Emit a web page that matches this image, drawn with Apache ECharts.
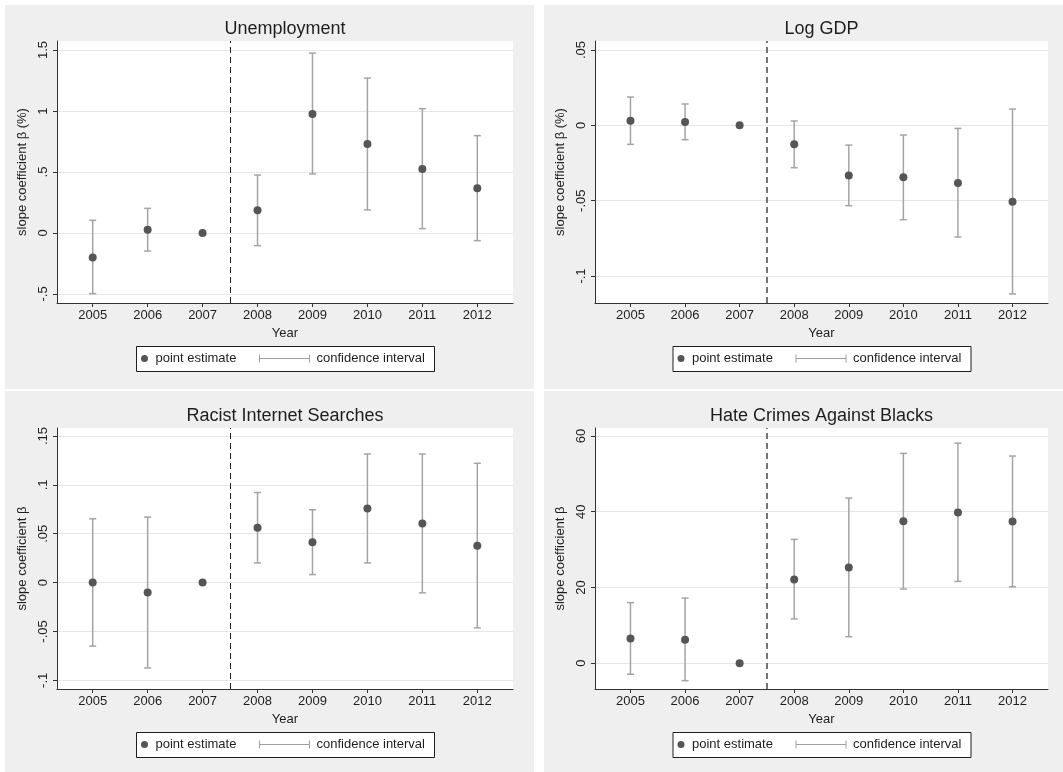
<!DOCTYPE html>
<html>
<head>
<meta charset="utf-8">
<title>event study</title>
<script src="https://cdn.jsdelivr.net/npm/echarts@6.0.0/dist/echarts.min.js"></script>
<style>
  html, body { margin: 0; padding: 0; background: #fff; }
  body { width: 1063px; height: 772px; position: relative; overflow: hidden; }
  .panel { position: absolute; background: #efefef; }
</style>
</head>
<body>
<div id="p1" class="panel" style="left:5px; top:5px; width:529px; height:384px;"></div>
<div id="p2" class="panel" style="left:544px; top:5px; width:519px; height:384px;"></div>
<div id="p3" class="panel" style="left:5px; top:391px; width:529px; height:381px;"></div>
<div id="p4" class="panel" style="left:544px; top:391px; width:519px; height:381px;"></div>
<script>
// years on the x axis
var years = [2005, 2006, 2007, 2008, 2009, 2010, 2011, 2012];

// unemployment
var unempEst = [-0.200, 0.027, 0, 0.186, 0.975, 0.730, 0.525, 0.366];
var unempLo  = [-0.497, -0.148, null, -0.104, 0.484, 0.189, 0.036, -0.063];
var unempHi  = [0.104, 0.202, null, 0.475, 1.475, 1.270, 1.019, 0.798];
var unempTicks = [-0.5, 0, 0.5, 1, 1.5];

// log gdp
var gdpEst = [0.0031, 0.0022, 0, -0.0126, -0.0332, -0.0345, -0.0383, -0.0507];
var gdpLo  = [-0.0126, -0.0095, null, -0.0281, -0.0533, -0.0626, -0.0741, -0.1119];
var gdpHi  = [0.0188, 0.0142, null, 0.0029, -0.0131, -0.0064, -0.0020, 0.0108];
var gdpTicks = [-0.1, -0.05, 0, 0.05];

// racist internet searches
var racistEst = [0, -0.0102, 0, 0.0561, 0.0412, 0.0759, 0.0605, 0.0378];
var racistLo  = [-0.0650, -0.0874, null, 0.0201, 0.0082, 0.0201, -0.0105, -0.0463];
var racistHi  = [0.0653, 0.0670, null, 0.0922, 0.0745, 0.1316, 0.1316, 0.1221];
var racistTicks = [-0.1, -0.05, 0, 0.05, 0.1, 0.15];

// hate crimes against blacks
var hateEst = [6.55, 6.2, 0, 22.1, 25.3, 37.5, 39.8, 37.4];
var hateLo  = [-2.9, -4.6, null, 11.7, 7.0, 19.6, 21.6, 20.2];
var hateHi  = [16.0, 17.2, null, 32.7, 43.6, 55.4, 58.1, 54.7];
var hateTicks = [0, 20, 40, 60];

var FONT = "'Liberation Sans', Arial, sans-serif";

// stata style number: .5 instead of 0.5
function stataNum(v) {
	return String(v).replace(/^(-?)0\./, '$1.');
}

function makePanel(id, conf) {
	var chart = echarts.init(document.getElementById(id), null, {renderer : 'canvas'});
	var g = conf.grid;
	var cx = g.left + g.width / 2;
	var boxW = 298, boxH = 25;
	var boxL = cx - boxW / 2;
	var boxT = g.top + g.height + 43;

	var points = [], bars = [];
	for(var i = 0; i < years.length; i++) {
		points.push([years[i], conf.est[i]]);
		if(conf.lo[i] != null){
			bars.push([years[i], conf.lo[i], conf.hi[i]]);
		}
	}

	var option = {
		backgroundColor : 'transparent',
		animation : false,
		textStyle : {fontFamily : FONT},
		title : {
			text : conf.title,
			left : cx,
			top : g.top - 21,
			textAlign : 'center',
			padding : 0,
			textStyle : {fontFamily : FONT, fontSize : 18, fontWeight : 'normal', color : '#1e1e1e'}
		},
		grid : {
			left : g.left, top : g.top, width : g.width, height : g.height,
			show : true, backgroundColor : '#ffffff', borderWidth : 0
		},
		graphic : [{
			type : 'rect', left : boxL, top : boxT, z : 0,
			shape : {width : boxW, height : boxH},
			style : {fill : '#ffffff', stroke : '#1e1e1e', lineWidth : 1}
		}],
		legend : [{
			left : boxL + 5, top : boxT + 6, padding : 0,
			itemWidth : 8, itemHeight : 7, selectedMode : false,
			textStyle : {fontFamily : FONT, fontSize : 13, color : '#1e1e1e', padding : [0, 0, 0, 2]},
			data : [{name : 'point estimate', icon : 'circle'}]
		}, {
			left : boxL + 123, top : boxT + 6, padding : 0,
			itemWidth : 50, itemHeight : 8, selectedMode : false,
			textStyle : {fontFamily : FONT, fontSize : 13, color : '#1e1e1e', padding : [0, 0, 0, 2]},
			data : [{
				name : 'confidence interval',
				icon : 'path://M0,0L0,8M0,4L50,4M50,0L50,8',
				itemStyle : {color : 'transparent', borderColor : '#a0a0a0', borderWidth : 1}
			}]
		}],
		xAxis : {
			type : 'value', min : 2004.35, max : 2012.65,
			name : 'Year', nameLocation : 'middle', nameGap : 21,
			nameTextStyle : {fontFamily : FONT, fontSize : 13, color : '#1e1e1e'},
			axisLine : {onZero : false, lineStyle : {color : '#333', width : 1}},
			axisTick : {show : true, length : 4, customValues : years, lineStyle : {color : '#333'}},
			axisLabel : {customValues : years, margin : 6, fontSize : 13, color : '#1e1e1e', fontFamily : FONT,
				formatter : function(v) { return String(v); }},
			splitLine : {show : false}
		},
		yAxis : {
			type : 'value', min : conf.yMin, max : conf.yMax,
			name : conf.yName, nameLocation : 'middle', nameGap : 21, nameRotate : 90,
			nameTextStyle : {fontFamily : FONT, fontSize : 13, color : '#1e1e1e'},
			axisLine : {show : true, onZero : false, lineStyle : {color : '#333', width : 1}},
			axisTick : {show : true, length : 4, customValues : conf.ticks, lineStyle : {color : '#333'}},
			axisLabel : {customValues : conf.ticks, rotate : 90, margin : 7, fontSize : 13, color : '#1e1e1e', fontFamily : FONT,
				formatter : stataNum},
			splitLine : {show : true, lineStyle : {color : '#e6e6e6', width : 1}}
		},
		series : [{
			name : 'confidence interval',
			type : 'custom',
			z : 2,
			data : bars,
			renderItem : function(params, api) {
				var x = api.value(0);
				var lo = api.coord([x, api.value(1)]);
				var hi = api.coord([x, api.value(2)]);
				var cap = 3.5;
				var st = {stroke : '#a4a4a4', lineWidth : 1.5};
				return {
					type : 'group',
					children : [
						{type : 'line', shape : {x1 : lo[0], y1 : lo[1], x2 : hi[0], y2 : hi[1]}, style : st},
						{type : 'line', shape : {x1 : lo[0] - cap, y1 : lo[1], x2 : lo[0] + cap, y2 : lo[1]}, style : st},
						{type : 'line', shape : {x1 : hi[0] - cap, y1 : hi[1], x2 : hi[0] + cap, y2 : hi[1]}, style : st}
					]
				};
			}
		}, {
			name : 'point estimate',
			type : 'scatter',
			z : 3,
			symbol : 'circle',
			symbolSize : 8,
			itemStyle : {color : '#555555', opacity : 1},
			data : points,
			markLine : {
				silent : true,
				symbol : ['none', 'none'],
				label : {show : false},
				lineStyle : {type : [6, 4], color : conf.dashColor, width : conf.dashWidth},
				data : [{xAxis : 2007.5}]
			}
		}]
	};
	chart.setOption(option);
	return chart;
}

makePanel('p1', {
	title : 'Unemployment', yName : 'slope coefficient β (%)',
	grid : {left : 52, top : 36, width : 456, height : 262},
	yMin : -0.574, yMax : 1.574, ticks : unempTicks,
	est : unempEst, lo : unempLo, hi : unempHi,
	dashColor : '#222', dashWidth : 1
});
makePanel('p2', {
	title : 'Log GDP', yName : 'slope coefficient β (%)',
	grid : {left : 51, top : 36, width : 453, height : 262},
	yMin : -0.1179, yMax : 0.056, ticks : gdpTicks,
	est : gdpEst, lo : gdpLo, hi : gdpHi,
	dashColor : '#666', dashWidth : 1.8
});
makePanel('p3', {
	title : 'Racist Internet Searches', yName : 'slope coefficient β',
	grid : {left : 52, top : 37, width : 456, height : 261},
	yMin : -0.1089, yMax : 0.1582, ticks : racistTicks,
	est : racistEst, lo : racistLo, hi : racistHi,
	dashColor : '#222', dashWidth : 1
});
makePanel('p4', {
	title : 'Hate Crimes Against Blacks', yName : 'slope coefficient β',
	grid : {left : 51, top : 37, width : 453, height : 261},
	yMin : -6.8, yMax : 62.1, ticks : hateTicks,
	est : hateEst, lo : hateLo, hi : hateHi,
	dashColor : '#666', dashWidth : 1.8
});
</script>
</body>
</html>
